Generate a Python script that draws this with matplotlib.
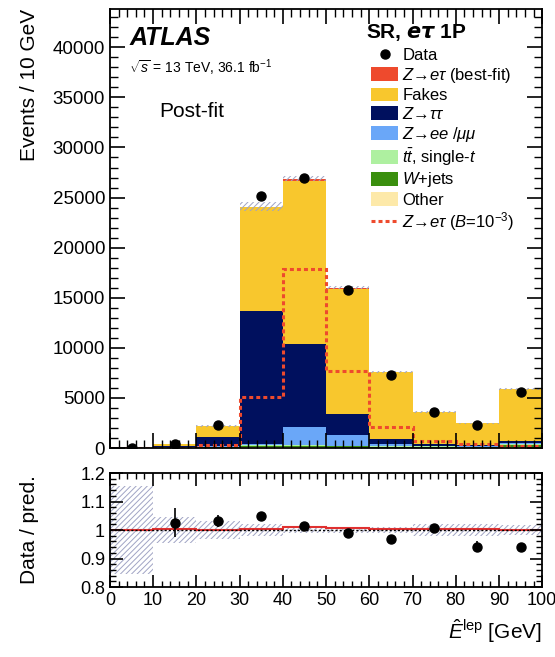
import numpy as np
import matplotlib
matplotlib.use("Agg")
import matplotlib.pyplot as plt
from matplotlib.patches import Patch
from matplotlib.lines import Line2D
from matplotlib.ticker import MultipleLocator

plt.rcParams['font.family'] = ['Liberation Sans', 'DejaVu Sans']
plt.rcParams['mathtext.fontset'] = 'custom'
plt.rcParams['mathtext.rm'] = 'Liberation Sans'
plt.rcParams['mathtext.it'] = 'Liberation Sans:italic'
plt.rcParams['mathtext.bf'] = 'Liberation Sans:bold'
plt.rcParams['hatch.linewidth'] = 0.7

# ---- data ----
edges = [0, 10, 20, 30, 40, 50, 60, 70, 80, 90, 100]
other  = [5, 20, 30, 60, 60, 50, 40, 30, 30, 60]
wjets  = [5, 30, 60, 120, 130, 110, 90, 80, 70, 200]
ttbar  = [2, 10, 40, 100, 110, 90, 70, 50, 50, 140]
zll    = [3, 20, 70, 120, 1800, 1050, 250, 80, 50, 60]
ztt    = [3, 170, 900, 13300, 8300, 2100, 450, 160, 100, 240]
fakes  = [2, 150, 1100, 10325, 16230, 12500, 6670, 3190, 2195, 5195]
sig_bf = [0, 1, 3, 75, 270, 100, 30, 10, 5, 5]
sig_b3 = [5, 30, 300, 5100, 17900, 7700, 2100, 700, 400, 200]
data   = [40, 410, 2270, 25200, 27000, 15750, 7330, 3610, 2350, 5550]
unc_rel = [0.156, 0.045, 0.03, 0.02, 0.01, 0.01, 0.012, 0.02, 0.02, 0.018]

labels = [r'$Z$→$e\tau$ (best-fit)', 'Fakes', r'$Z$→$\tau\tau$',
          r'$Z$→$ee$ /$\mu\mu$', r'$t\bar{t}$, single-$t$', r'$W$+jets', 'Other']
colors = {'sig': '#ee4a2d', 'fakes': '#f8c72d', 'ztt': '#00105e', 'zll': '#6aa7f8',
          'tt': '#aef0a0', 'wjets': '#3a8f0e', 'other': '#fde9a9'}

edges = np.array(edges, float)
centers = 0.5 * (edges[:-1] + edges[1:])
width = np.diff(edges)

fig = plt.figure(figsize=(5.55, 6.57), dpi=100)
ax = fig.add_axes([0.198, 0.318, 0.779, 0.668])
axr = fig.add_axes([0.198, 0.1065, 0.779, 0.1735])

stack = [(other, colors['other']), (wjets, colors['wjets']), (ttbar, colors['tt']),
         (zll, colors['zll']), (ztt, colors['ztt']), (fakes, colors['fakes']),
         (sig_bf, colors['sig'])]
bottom = np.zeros(len(centers))
for vals, c in stack:
    v = np.array(vals, float)
    ax.bar(centers, v, width=width, bottom=bottom, color=c, linewidth=0, align='center')
    bottom = bottom + v
total = bottom
bkg = total - np.array(sig_bf, float)
unc = np.array(unc_rel)

ax.bar(centers, 2 * total * unc, width=width, bottom=total * (1 - unc), fill=False,
       hatch='//////', edgecolor='#a0a4c4', linewidth=0)
ax.stairs(sig_b3, edges, color='#ee4a2d', linewidth=2.2, linestyle=(0, (1.3, 1.0)), baseline=0)
d = np.array(data, float)
ax.errorbar(centers, d, yerr=np.sqrt(d), fmt='o', color='black', markersize=6.5,
            elinewidth=1.2, capsize=0)

ax.set_xlim(0, 100)
ax.set_ylim(0, 43800)
ax.xaxis.set_major_locator(MultipleLocator(10))
ax.xaxis.set_minor_locator(MultipleLocator(2))
ax.yaxis.set_major_locator(MultipleLocator(5000))
ax.yaxis.set_minor_locator(MultipleLocator(1000))
ax.tick_params(axis='both', which='both', direction='in', top=True, right=True)
ax.tick_params(which='major', length=11, width=1.2)
ax.tick_params(which='minor', length=5.5, width=1.0)
ax.tick_params(axis='y', labelsize=13.5)
ax.tick_params(axis='x', labelbottom=False)
ax.set_ylabel('Events / 10 GeV', fontsize=15, loc='top')
for s in ax.spines.values():
    s.set_linewidth(1.3)

ax.text(0.045, 0.935, 'ATLAS', transform=ax.transAxes, fontsize=18, fontweight='bold',
        fontstyle='italic', va='center')
ax.text(0.045, 0.866, r'$\sqrt{s}$ = 13 TeV, 36.1 fb$^{-1}$', transform=ax.transAxes,
        fontsize=10, va='center')
ax.text(0.115, 0.768, 'Post-fit', transform=ax.transAxes, fontsize=15, va='center')
ax.text(0.592, 0.947, r'SR, $\boldsymbol{e\tau}$ 1P', transform=ax.transAxes, fontsize=15,
        fontweight='bold', va='center')

handles = [Line2D([], [], marker='o', color='black', linestyle='none', markersize=6.5)]
cols = [colors['sig'], colors['fakes'], colors['ztt'], colors['zll'], colors['tt'],
        colors['wjets'], colors['other']]
for c in cols:
    handles.append(Patch(facecolor=c, edgecolor='none'))
handles.append(Line2D([], [], color='#ee4a2d', linewidth=2.2, linestyle=(0, (1.3, 1.0))))
leg_labels = ['Data'] + labels + [r'$Z$→$e\tau$ ($\mathit{B}$=10$^{-3}$)']
ax.legend(handles, leg_labels, loc='upper left', bbox_to_anchor=(363 / 555, 1 - 39 / 657),
          bbox_transform=fig.transFigure, frameon=False, fontsize=12, borderpad=0,
          labelspacing=0.165, handlelength=1.6, handleheight=0.9, handletextpad=0.25)

# ---- ratio panel ----
axr.bar(centers, 2 * unc, width=width, bottom=1 - unc, fill=False, hatch='//////',
        edgecolor='#a0a4c4', linewidth=0)
sr = total / bkg
axr.fill_between(edges, np.r_[sr, sr[-1]] - 0.003, np.r_[sr, sr[-1]] + 0.003, step='post',
                 color='#f4a0a0', linewidth=0)
axr.stairs(sr, edges, color='#e03030', linewidth=1.5, baseline=None)
axr.axhline(1.0, color='black', linestyle=(0, (1.5, 1.5)), linewidth=1.0)
ratio = d / bkg
axr.errorbar(centers, ratio, yerr=np.sqrt(d) / bkg, fmt='o', color='black', markersize=6.5,
             elinewidth=1.2, capsize=0)
axr.set_xlim(0, 100)
axr.set_ylim(0.8, 1.2)
axr.xaxis.set_major_locator(MultipleLocator(10))
axr.xaxis.set_minor_locator(MultipleLocator(2))
axr.yaxis.set_major_locator(MultipleLocator(0.1))
axr.yaxis.set_minor_locator(MultipleLocator(0.02))
axr.set_yticks([0.8, 0.9, 1.0, 1.1, 1.2])
axr.set_yticklabels(['0.8', '0.9', '1', '1.1', '1.2'])
axr.tick_params(axis='both', which='both', direction='in', top=True, right=True, labelsize=13)
axr.tick_params(which='major', length=9, width=1.2)
axr.tick_params(which='minor', length=4.5, width=1.0)
axr.set_ylabel('Data / pred.', fontsize=15)
axr.set_xlabel(r'$\hat{E}^{\rm lep}$ [GeV]', fontsize=15, loc='right', labelpad=6)
for s in axr.spines.values():
    s.set_linewidth(1.3)

ax.yaxis.set_label_coords(-0.163, 1.0)
axr.yaxis.set_label_coords(-0.163, 0.5)

fig.savefig('out.png', dpi=100)
